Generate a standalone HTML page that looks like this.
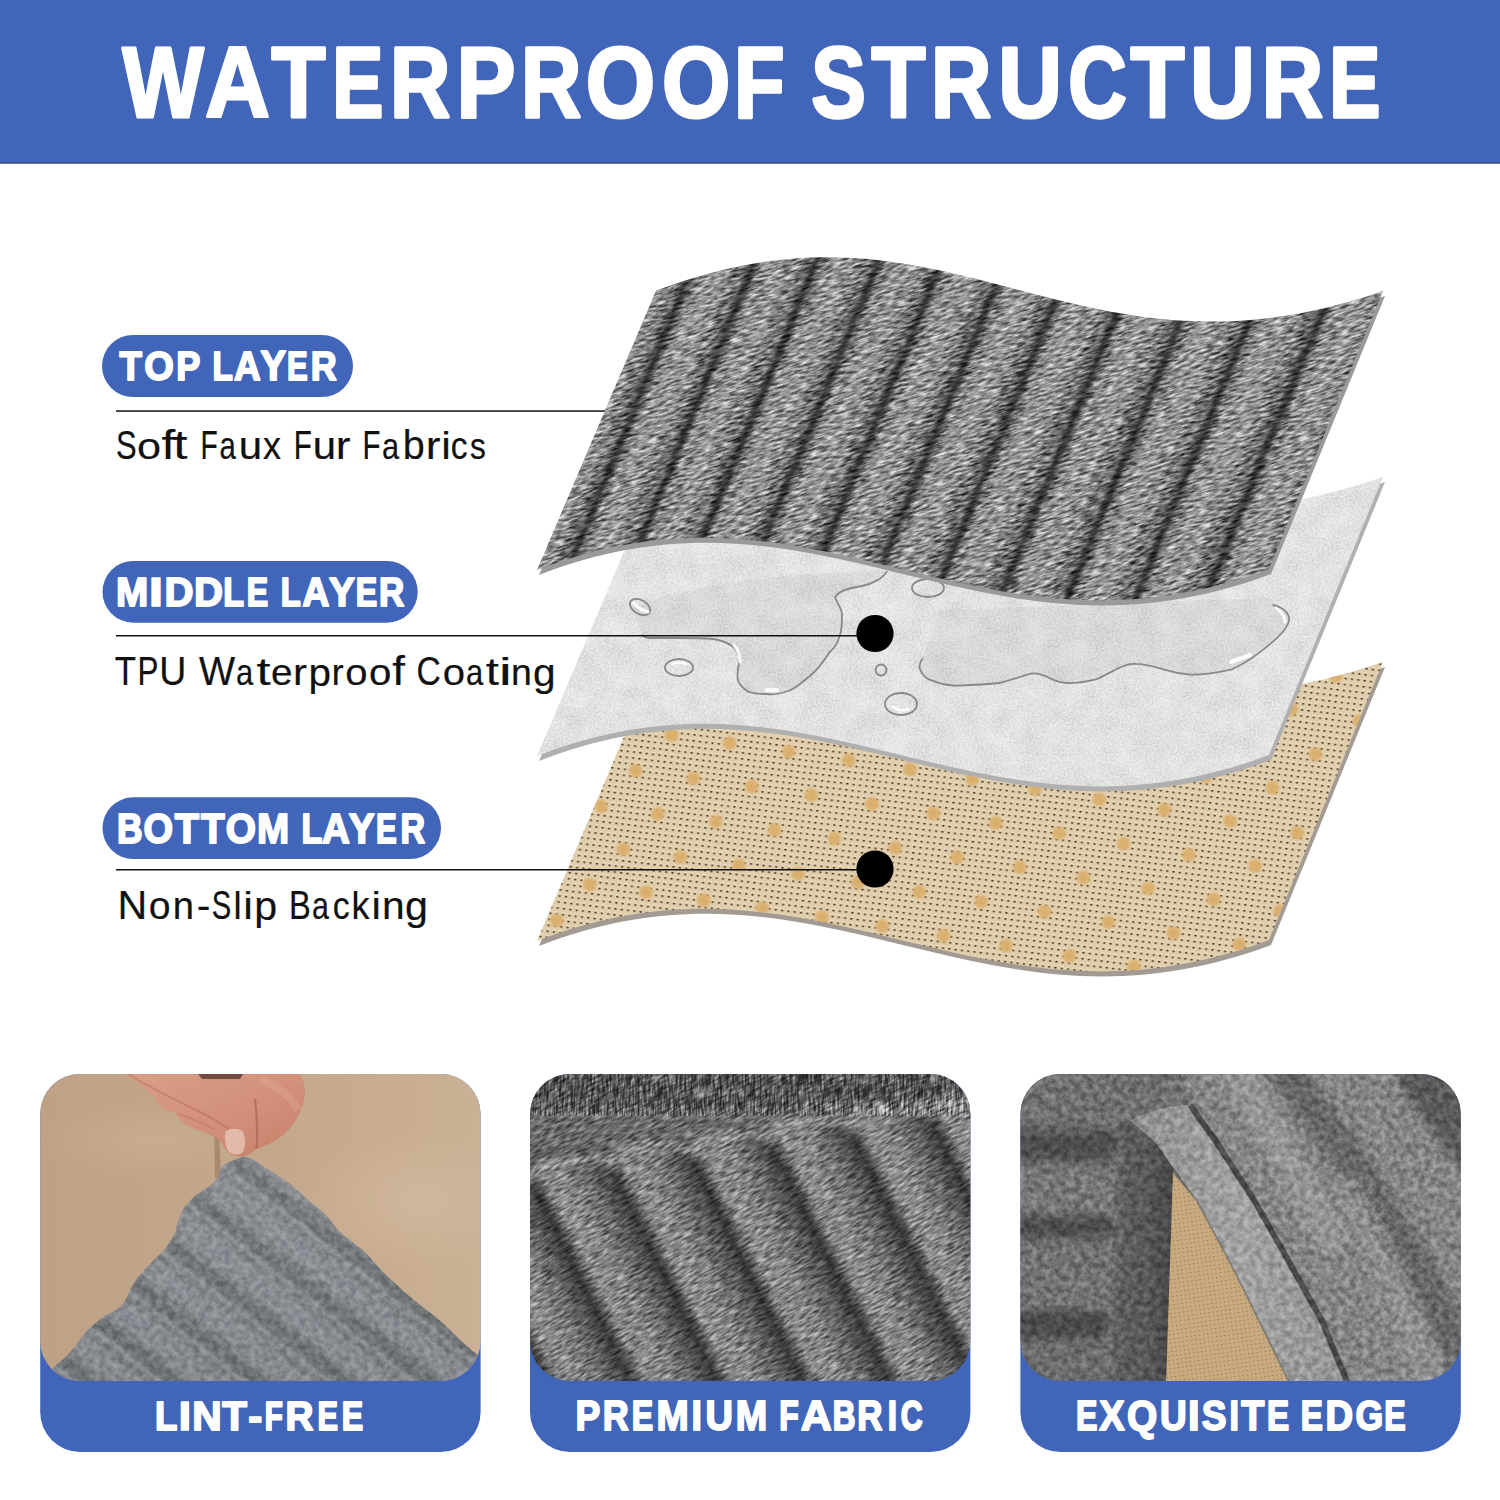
<!DOCTYPE html>
<html><head><meta charset="utf-8"><title>Waterproof Structure</title>
<style>
html,body{margin:0;padding:0;background:#fff;}
body{width:1500px;height:1500px;overflow:hidden;position:relative;font-family:"Liberation Sans",sans-serif;}
svg{position:absolute;left:0;top:0;display:block;}
</style></head><body>
<svg width="1500" height="1500" viewBox="0 0 1500 1500" font-family="Liberation Sans, sans-serif">
<defs>
  <path id="sheet" d="M656,290.7 C952.7,177.1 1071.3,399.1 1383,291 L1269,569 C978.3,677.9 820.5,459.5 537,570 Z"/>
  <clipPath id="clipTop"><use href="#sheet"/></clipPath>
  <clipPath id="clipMid"><use href="#sheet" transform="translate(0,186)"/></clipPath>
  <clipPath id="clipBot"><use href="#sheet" transform="translate(0,371)"/></clipPath>
  <linearGradient id="ribGrad" x1="0" x2="1" y1="0" y2="0">
    <stop offset="0" stop-color="#2c2c2c"/>
    <stop offset="0.07" stop-color="#505050"/>
    <stop offset="0.18" stop-color="#858585"/>
    <stop offset="0.5" stop-color="#939393"/>
    <stop offset="0.82" stop-color="#7c7c7c"/>
    <stop offset="0.93" stop-color="#505050"/>
    <stop offset="1" stop-color="#2c2c2c"/>
  </linearGradient>
  <pattern id="ribs" patternUnits="userSpaceOnUse" width="62" height="1500" patternTransform="skewX(-22.32) translate(59,0)">
    <rect x="0" y="0" width="62" height="1500" fill="url(#ribGrad)"/>
  </pattern>
  <filter id="furNoise" x="-200" y="-200" width="2000" height="2000" filterUnits="userSpaceOnUse" color-interpolation-filters="sRGB">
    <feTurbulence type="fractalNoise" baseFrequency="0.1 0.45" numOctaves="3" seed="7"/>
    <feColorMatrix type="matrix" values="1.9 0 0 0 -0.45  1.9 0 0 0 -0.45  1.9 0 0 0 -0.45  0 0 0 0 1"/>
  </filter>
  <filter id="mottle" x="-200" y="-200" width="2000" height="2000" filterUnits="userSpaceOnUse" color-interpolation-filters="sRGB">
    <feTurbulence type="fractalNoise" baseFrequency="0.045" numOctaves="4" seed="11"/>
    <feColorMatrix type="matrix" values="1.6 0 0 0 -0.3  1.6 0 0 0 -0.3  1.6 0 0 0 -0.3  0 0 0 0 1"/>
  </filter>
  <filter id="fineNoise" x="-200" y="-200" width="2000" height="2000" filterUnits="userSpaceOnUse" color-interpolation-filters="sRGB">
    <feTurbulence type="fractalNoise" baseFrequency="0.5" numOctaves="2" seed="4"/>
    <feColorMatrix type="matrix" values="2.5 0 0 0 -0.75  2.5 0 0 0 -0.75  2.5 0 0 0 -0.75  0 0 0 0 1"/>
  </filter>
  <!-- tan mesh -->
  <pattern id="mesh" patternUnits="userSpaceOnUse" width="6.3" height="6" patternTransform="matrix(1 0.12 -0.16 1 0 0)">
    <rect width="6.3" height="6" fill="#dfccaa"/>
    <ellipse cx="3.1" cy="1.2" rx="2.2" ry="0.9" fill="#ecdcc0" opacity="0.8"/>
    <ellipse cx="3.1" cy="3.2" rx="1.25" ry="0.85" fill="#45351d"/>
  </pattern>
  <radialGradient id="dotG">
    <stop offset="0" stop-color="#d9ad68"/>
    <stop offset="0.6" stop-color="#dcb272" stop-opacity="0.95"/>
    <stop offset="1" stop-color="#dcb272" stop-opacity="0"/>
  </radialGradient>
  <pattern id="dots" patternUnits="userSpaceOnUse" width="60" height="78" patternTransform="matrix(1 0.15 -0.154 1 670.7 737.3)">
    <circle cx="0" cy="0" r="8.5" fill="url(#dotG)"/>
    <circle cx="60" cy="0" r="8.5" fill="url(#dotG)"/>
    <circle cx="0" cy="78" r="8.5" fill="url(#dotG)"/>
    <circle cx="60" cy="78" r="8.5" fill="url(#dotG)"/>
    <circle cx="30" cy="39" r="8.5" fill="url(#dotG)"/>
  </pattern>
  <filter id="furNoise2" x="-200" y="-200" width="2000" height="2000" filterUnits="userSpaceOnUse" color-interpolation-filters="sRGB">
    <feTurbulence type="fractalNoise" baseFrequency="0.16 0.16" numOctaves="3" seed="21"/>
    <feColorMatrix type="matrix" values="1.9 0 0 0 -0.45  1.9 0 0 0 -0.45  1.9 0 0 0 -0.45  0 0 0 0 1"/>
  </filter>
  <filter id="blurR" x="-20%" y="-20%" width="140%" height="140%"><feGaussianBlur stdDeviation="7"/></filter>
  <filter id="blurG" x="-20%" y="-20%" width="140%" height="140%"><feGaussianBlur stdDeviation="2.2"/></filter>
  <filter id="vStreak" x="0" y="0" width="1" height="1" filterUnits="objectBoundingBox" color-interpolation-filters="sRGB">
    <feTurbulence type="fractalNoise" baseFrequency="0.45 0.07" numOctaves="2" seed="5"/>
    <feColorMatrix type="matrix" values="2.4 0 0 0 -0.7  2.4 0 0 0 -0.7  2.4 0 0 0 -0.7  0 0 0 0 1"/>
  </filter>
</defs>

<!-- header -->
<rect x="0" y="0" width="1500" height="163" fill="#4166b9"/>
<rect x="0" y="162.4" width="1500" height="1.3" fill="#2c4277"/>
<text transform="translate(122.42,116.50) scale(0.8600,0.9927)" font-size="100" font-weight="bold" fill="#fff" stroke="#fff" stroke-width="3.24" stroke-linejoin="round">W</text>
<text transform="translate(205.27,116.50) scale(0.8943,0.9927)" font-size="100" font-weight="bold" fill="#fff" stroke="#fff" stroke-width="3.18" stroke-linejoin="round">A</text>
<text transform="translate(271.51,116.50) scale(0.8831,0.9927)" font-size="100" font-weight="bold" fill="#fff" stroke="#fff" stroke-width="3.20" stroke-linejoin="round">T</text>
<text transform="translate(332.37,116.50) scale(0.7664,0.9927)" font-size="100" font-weight="bold" fill="#fff" stroke="#fff" stroke-width="3.41" stroke-linejoin="round">E</text>
<text transform="translate(389.91,116.50) scale(0.8350,0.9927)" font-size="100" font-weight="bold" fill="#fff" stroke="#fff" stroke-width="3.28" stroke-linejoin="round">R</text>
<text transform="translate(456.59,116.50) scale(0.8835,0.9927)" font-size="100" font-weight="bold" fill="#fff" stroke="#fff" stroke-width="3.20" stroke-linejoin="round">P</text>
<text transform="translate(520.91,116.50) scale(0.8350,0.9927)" font-size="100" font-weight="bold" fill="#fff" stroke="#fff" stroke-width="3.28" stroke-linejoin="round">R</text>
<text transform="translate(585.84,116.50) scale(0.8923,0.9927)" font-size="100" font-weight="bold" fill="#fff" stroke="#fff" stroke-width="3.18" stroke-linejoin="round">O</text>
<text transform="translate(661.90,116.50) scale(0.8779,0.9927)" font-size="100" font-weight="bold" fill="#fff" stroke="#fff" stroke-width="3.21" stroke-linejoin="round">O</text>
<text transform="translate(733.96,116.50) scale(0.8279,0.9927)" font-size="100" font-weight="bold" fill="#fff" stroke="#fff" stroke-width="3.30" stroke-linejoin="round">F</text>
<text transform="translate(811.14,116.50) scale(0.8179,0.9927)" font-size="100" font-weight="bold" fill="#fff" stroke="#fff" stroke-width="3.31" stroke-linejoin="round">S</text>
<text transform="translate(871.51,116.50) scale(0.8831,0.9927)" font-size="100" font-weight="bold" fill="#fff" stroke="#fff" stroke-width="3.20" stroke-linejoin="round">T</text>
<text transform="translate(930.91,116.50) scale(0.8350,0.9927)" font-size="100" font-weight="bold" fill="#fff" stroke="#fff" stroke-width="3.28" stroke-linejoin="round">R</text>
<text transform="translate(998.20,116.50) scale(0.8818,0.9927)" font-size="100" font-weight="bold" fill="#fff" stroke="#fff" stroke-width="3.20" stroke-linejoin="round">U</text>
<text transform="translate(1068.18,116.50) scale(0.8106,0.9927)" font-size="100" font-weight="bold" fill="#fff" stroke="#fff" stroke-width="3.33" stroke-linejoin="round">C</text>
<text transform="translate(1130.51,116.50) scale(0.8831,0.9927)" font-size="100" font-weight="bold" fill="#fff" stroke="#fff" stroke-width="3.20" stroke-linejoin="round">T</text>
<text transform="translate(1190.10,116.50) scale(0.8984,0.9927)" font-size="100" font-weight="bold" fill="#fff" stroke="#fff" stroke-width="3.17" stroke-linejoin="round">U</text>
<text transform="translate(1261.81,116.50) scale(0.8507,0.9927)" font-size="100" font-weight="bold" fill="#fff" stroke="#fff" stroke-width="3.25" stroke-linejoin="round">R</text>
<text transform="translate(1329.37,116.50) scale(0.7664,0.9927)" font-size="100" font-weight="bold" fill="#fff" stroke="#fff" stroke-width="3.41" stroke-linejoin="round">E</text>

<!-- labels -->
<rect x="102" y="335" width="251" height="62" rx="31" fill="#4166b9"/>
<text transform="translate(119.49,380.30) scale(0.3668,0.4157)" font-size="100" font-weight="bold" fill="#fff" stroke="#fff" stroke-width="4.60" stroke-linejoin="round">T</text>
<text transform="translate(144.14,380.30) scale(0.3800,0.4157)" font-size="100" font-weight="bold" fill="#fff" stroke="#fff" stroke-width="4.52" stroke-linejoin="round">O</text>
<text transform="translate(176.29,380.30) scale(0.3605,0.4157)" font-size="100" font-weight="bold" fill="#fff" stroke="#fff" stroke-width="4.64" stroke-linejoin="round">P</text>
<text transform="translate(212.47,380.30) scale(0.3332,0.4157)" font-size="100" font-weight="bold" fill="#fff" stroke="#fff" stroke-width="4.81" stroke-linejoin="round">L</text>
<text transform="translate(233.98,380.30) scale(0.3697,0.4157)" font-size="100" font-weight="bold" fill="#fff" stroke="#fff" stroke-width="4.58" stroke-linejoin="round">A</text>
<text transform="translate(260.54,380.30) scale(0.3834,0.4157)" font-size="100" font-weight="bold" fill="#fff" stroke="#fff" stroke-width="4.50" stroke-linejoin="round">Y</text>
<text transform="translate(287.03,380.30) scale(0.3101,0.4157)" font-size="100" font-weight="bold" fill="#fff" stroke="#fff" stroke-width="4.96" stroke-linejoin="round">E</text>
<text transform="translate(310.70,380.30) scale(0.3592,0.4157)" font-size="100" font-weight="bold" fill="#fff" stroke="#fff" stroke-width="4.65" stroke-linejoin="round">R</text>
<rect x="116" y="410.3" width="490" height="1.5" fill="#111"/>
<text transform="translate(116.00,459.30) scale(0.3092,0.4128)" font-size="100" font-weight="normal" fill="#111" stroke="#111" stroke-width="0.55">S</text>
<text transform="translate(136.99,459.30) scale(0.4320,0.3786)" font-size="100" font-weight="normal" fill="#111" stroke="#111" stroke-width="0.49">o</text>
<text transform="translate(161.40,459.30) scale(0.4941,0.4090)" font-size="100" font-weight="normal" fill="#111" stroke="#111" stroke-width="0.44">f</text>
<text transform="translate(173.32,459.30) scale(0.5130,0.4042)" font-size="100" font-weight="normal" fill="#111" stroke="#111" stroke-width="0.44">t</text>
<text transform="translate(200.48,459.30) scale(0.2823,0.4128)" font-size="100" font-weight="normal" fill="#111" stroke="#111" stroke-width="0.58">F</text>
<text transform="translate(219.55,459.30) scale(0.2940,0.3786)" font-size="100" font-weight="normal" fill="#111" stroke="#111" stroke-width="0.59">a</text>
<text transform="translate(238.68,459.30) scale(0.4190,0.3786)" font-size="100" font-weight="normal" fill="#111" stroke="#111" stroke-width="0.50">u</text>
<text transform="translate(263.00,459.30) scale(0.3598,0.3786)" font-size="100" font-weight="normal" fill="#111" stroke="#111" stroke-width="0.54">x</text>
<text transform="translate(293.67,459.30) scale(0.2967,0.4128)" font-size="100" font-weight="normal" fill="#111" stroke="#111" stroke-width="0.56">F</text>
<text transform="translate(312.68,459.30) scale(0.4190,0.3786)" font-size="100" font-weight="normal" fill="#111" stroke="#111" stroke-width="0.50">u</text>
<text transform="translate(335.85,459.30) scale(0.4440,0.3786)" font-size="100" font-weight="normal" fill="#111" stroke="#111" stroke-width="0.49">r</text>
<text transform="translate(362.38,459.30) scale(0.2946,0.4128)" font-size="100" font-weight="normal" fill="#111" stroke="#111" stroke-width="0.57">F</text>
<text transform="translate(382.09,459.30) scale(0.3076,0.3786)" font-size="100" font-weight="normal" fill="#111" stroke="#111" stroke-width="0.58">a</text>
<text transform="translate(402.85,459.30) scale(0.3958,0.4030)" font-size="100" font-weight="normal" fill="#111" stroke="#111" stroke-width="0.50">b</text>
<text transform="translate(425.85,459.30) scale(0.4440,0.3786)" font-size="100" font-weight="normal" fill="#111" stroke="#111" stroke-width="0.49">r</text>
<text transform="translate(441.21,459.30) scale(0.4324,0.3919)" font-size="100" font-weight="normal" fill="#111" stroke="#111" stroke-width="0.49">i</text>
<text transform="translate(450.67,459.30) scale(0.3363,0.3786)" font-size="100" font-weight="normal" fill="#111" stroke="#111" stroke-width="0.56">c</text>
<text transform="translate(469.92,459.30) scale(0.3165,0.3786)" font-size="100" font-weight="normal" fill="#111" stroke="#111" stroke-width="0.58">s</text>

<rect x="102.5" y="561" width="315.2" height="61.7" rx="30.8" fill="#4166b9"/>
<text transform="translate(116.12,606.30) scale(0.3861,0.4099)" font-size="100" font-weight="bold" fill="#fff" stroke="#fff" stroke-width="4.52" stroke-linejoin="round">M</text>
<text transform="translate(148.96,606.30) scale(0.4999,0.4099)" font-size="100" font-weight="bold" fill="#fff" stroke="#fff" stroke-width="3.96" stroke-linejoin="round">I</text>
<text transform="translate(164.62,606.30) scale(0.4011,0.4099)" font-size="100" font-weight="bold" fill="#fff" stroke="#fff" stroke-width="4.44" stroke-linejoin="round">D</text>
<text transform="translate(194.02,606.30) scale(0.4011,0.4099)" font-size="100" font-weight="bold" fill="#fff" stroke="#fff" stroke-width="4.44" stroke-linejoin="round">D</text>
<text transform="translate(223.23,606.30) scale(0.3391,0.4099)" font-size="100" font-weight="bold" fill="#fff" stroke="#fff" stroke-width="4.81" stroke-linejoin="round">L</text>
<text transform="translate(246.75,606.30) scale(0.3208,0.4099)" font-size="100" font-weight="bold" fill="#fff" stroke="#fff" stroke-width="4.93" stroke-linejoin="round">E</text>
<text transform="translate(280.71,606.30) scale(0.3274,0.4099)" font-size="100" font-weight="bold" fill="#fff" stroke="#fff" stroke-width="4.88" stroke-linejoin="round">L</text>
<text transform="translate(302.36,606.30) scale(0.3756,0.4099)" font-size="100" font-weight="bold" fill="#fff" stroke="#fff" stroke-width="4.58" stroke-linejoin="round">A</text>
<text transform="translate(329.04,606.30) scale(0.3881,0.4099)" font-size="100" font-weight="bold" fill="#fff" stroke="#fff" stroke-width="4.51" stroke-linejoin="round">Y</text>
<text transform="translate(355.75,606.30) scale(0.3208,0.4099)" font-size="100" font-weight="bold" fill="#fff" stroke="#fff" stroke-width="4.93" stroke-linejoin="round">E</text>
<text transform="translate(378.96,606.30) scale(0.3497,0.4099)" font-size="100" font-weight="bold" fill="#fff" stroke="#fff" stroke-width="4.74" stroke-linejoin="round">R</text>
<text transform="translate(114.72,684.80) scale(0.3484,0.4012)" font-size="100" font-weight="normal" fill="#111" stroke="#111" stroke-width="0.53">T</text>
<text transform="translate(137.43,684.80) scale(0.3138,0.4012)" font-size="100" font-weight="normal" fill="#111" stroke="#111" stroke-width="0.56">P</text>
<text transform="translate(159.31,684.80) scale(0.3751,0.4012)" font-size="100" font-weight="normal" fill="#111" stroke="#111" stroke-width="0.52">U</text>
<text transform="translate(198.93,684.80) scale(0.3825,0.4012)" font-size="100" font-weight="normal" fill="#111" stroke="#111" stroke-width="0.51">W</text>
<text transform="translate(236.09,684.80) scale(0.3095,0.3767)" font-size="100" font-weight="normal" fill="#111" stroke="#111" stroke-width="0.58">a</text>
<text transform="translate(256.54,684.80) scale(0.5051,0.3928)" font-size="100" font-weight="normal" fill="#111" stroke="#111" stroke-width="0.45">t</text>
<text transform="translate(271.05,684.80) scale(0.3879,0.3767)" font-size="100" font-weight="normal" fill="#111" stroke="#111" stroke-width="0.52">e</text>
<text transform="translate(292.91,684.80) scale(0.4200,0.3767)" font-size="100" font-weight="normal" fill="#111" stroke="#111" stroke-width="0.50">r</text>
<text transform="translate(308.39,685.62) scale(0.4047,0.3921)" font-size="100" font-weight="normal" fill="#111" stroke="#111" stroke-width="0.50">p</text>
<text transform="translate(331.64,684.80) scale(0.3560,0.3767)" font-size="100" font-weight="normal" fill="#111" stroke="#111" stroke-width="0.55">r</text>
<text transform="translate(345.32,684.80) scale(0.4003,0.3767)" font-size="100" font-weight="normal" fill="#111" stroke="#111" stroke-width="0.51">o</text>
<text transform="translate(369.01,684.80) scale(0.4024,0.3767)" font-size="100" font-weight="normal" fill="#111" stroke="#111" stroke-width="0.51">o</text>
<text transform="translate(392.35,684.80) scale(0.4564,0.3980)" font-size="100" font-weight="normal" fill="#111" stroke="#111" stroke-width="0.47">f</text>
<text transform="translate(416.59,684.80) scale(0.3363,0.4012)" font-size="100" font-weight="normal" fill="#111" stroke="#111" stroke-width="0.54">C</text>
<text transform="translate(442.72,684.80) scale(0.4003,0.3767)" font-size="100" font-weight="normal" fill="#111" stroke="#111" stroke-width="0.51">o</text>
<text transform="translate(466.09,684.80) scale(0.3095,0.3767)" font-size="100" font-weight="normal" fill="#111" stroke="#111" stroke-width="0.58">a</text>
<text transform="translate(485.78,684.80) scale(0.4738,0.3928)" font-size="100" font-weight="normal" fill="#111" stroke="#111" stroke-width="0.46">t</text>
<text transform="translate(498.64,684.80) scale(0.5916,0.3809)" font-size="100" font-weight="normal" fill="#111" stroke="#111" stroke-width="0.41">i</text>
<text transform="translate(510.91,684.80) scale(0.3743,0.3767)" font-size="100" font-weight="normal" fill="#111" stroke="#111" stroke-width="0.53">n</text>
<text transform="translate(533.09,685.62) scale(0.4069,0.3921)" font-size="100" font-weight="normal" fill="#111" stroke="#111" stroke-width="0.50">g</text>

<rect x="102.5" y="797.3" width="338.5" height="61.7" rx="30.8" fill="#4166b9"/>
<text transform="translate(116.93,842.50) scale(0.3542,0.4186)" font-size="100" font-weight="bold" fill="#fff" stroke="#fff" stroke-width="4.66" stroke-linejoin="round">B</text>
<text transform="translate(143.54,842.50) scale(0.3800,0.4186)" font-size="100" font-weight="bold" fill="#fff" stroke="#fff" stroke-width="4.51" stroke-linejoin="round">O</text>
<text transform="translate(174.65,842.50) scale(0.3974,0.4186)" font-size="100" font-weight="bold" fill="#fff" stroke="#fff" stroke-width="4.41" stroke-linejoin="round">T</text>
<text transform="translate(201.07,842.50) scale(0.3872,0.4186)" font-size="100" font-weight="bold" fill="#fff" stroke="#fff" stroke-width="4.47" stroke-linejoin="round">T</text>
<text transform="translate(225.71,842.50) scale(0.3886,0.4186)" font-size="100" font-weight="bold" fill="#fff" stroke="#fff" stroke-width="4.46" stroke-linejoin="round">O</text>
<text transform="translate(257.12,842.50) scale(0.3861,0.4186)" font-size="100" font-weight="bold" fill="#fff" stroke="#fff" stroke-width="4.47" stroke-linejoin="round">M</text>
<text transform="translate(301.43,842.50) scale(0.3391,0.4186)" font-size="100" font-weight="bold" fill="#fff" stroke="#fff" stroke-width="4.75" stroke-linejoin="round">L</text>
<text transform="translate(321.94,842.50) scale(0.3846,0.4186)" font-size="100" font-weight="bold" fill="#fff" stroke="#fff" stroke-width="4.48" stroke-linejoin="round">A</text>
<text transform="translate(348.64,842.50) scale(0.3881,0.4186)" font-size="100" font-weight="bold" fill="#fff" stroke="#fff" stroke-width="4.46" stroke-linejoin="round">Y</text>
<text transform="translate(376.03,842.50) scale(0.3101,0.4186)" font-size="100" font-weight="bold" fill="#fff" stroke="#fff" stroke-width="4.94" stroke-linejoin="round">E</text>
<text transform="translate(400.42,842.50) scale(0.3403,0.4186)" font-size="100" font-weight="bold" fill="#fff" stroke="#fff" stroke-width="4.74" stroke-linejoin="round">R</text>
<text transform="translate(117.52,919.10) scale(0.4117,0.4026)" font-size="100" font-weight="normal" fill="#111" stroke="#111" stroke-width="0.49">N</text>
<text transform="translate(148.65,919.10) scale(0.3918,0.3861)" font-size="100" font-weight="normal" fill="#111" stroke="#111" stroke-width="0.51">o</text>
<text transform="translate(172.77,919.10) scale(0.3814,0.3861)" font-size="100" font-weight="normal" fill="#111" stroke="#111" stroke-width="0.52">n</text>
<text transform="translate(196.68,919.10) scale(0.4096,0.3861)" font-size="100" font-weight="normal" fill="#111" stroke="#111" stroke-width="0.50">-</text>
<text transform="translate(211.87,919.10) scale(0.2918,0.4026)" font-size="100" font-weight="normal" fill="#111" stroke="#111" stroke-width="0.58">S</text>
<text transform="translate(233.45,919.10) scale(0.3641,0.3933)" font-size="100" font-weight="normal" fill="#111" stroke="#111" stroke-width="0.53">l</text>
<text transform="translate(243.21,919.10) scale(0.4324,0.3823)" font-size="100" font-weight="normal" fill="#111" stroke="#111" stroke-width="0.49">i</text>
<text transform="translate(254.25,919.94) scale(0.4114,0.4020)" font-size="100" font-weight="normal" fill="#111" stroke="#111" stroke-width="0.49">p</text>
<text transform="translate(288.92,919.10) scale(0.3269,0.4026)" font-size="100" font-weight="normal" fill="#111" stroke="#111" stroke-width="0.55">B</text>
<text transform="translate(311.91,919.10) scale(0.3037,0.3861)" font-size="100" font-weight="normal" fill="#111" stroke="#111" stroke-width="0.58">a</text>
<text transform="translate(332.66,919.10) scale(0.3386,0.3861)" font-size="100" font-weight="normal" fill="#111" stroke="#111" stroke-width="0.55">c</text>
<text transform="translate(351.58,919.10) scale(0.3594,0.3933)" font-size="100" font-weight="normal" fill="#111" stroke="#111" stroke-width="0.53">k</text>
<text transform="translate(371.58,919.10) scale(0.4210,0.3823)" font-size="100" font-weight="normal" fill="#111" stroke="#111" stroke-width="0.50">i</text>
<text transform="translate(381.90,919.10) scale(0.4072,0.3861)" font-size="100" font-weight="normal" fill="#111" stroke="#111" stroke-width="0.50">n</text>
<text transform="translate(404.97,919.94) scale(0.4114,0.4020)" font-size="100" font-weight="normal" fill="#111" stroke="#111" stroke-width="0.49">g</text>

<!-- bottom layer (tan) -->
<use href="#sheet" transform="translate(2,376)" fill="#a19b93"/>
<g clip-path="url(#clipBot)">
  <rect x="500" y="600" width="950" height="420" fill="url(#mesh)"/>
  <g fill="url(#dotG)">
<circle cx="1380.7" cy="642.6" r="8.5"/>
<circle cx="1135.9" cy="642.3" r="8.5"/>
<circle cx="1201.5" cy="653.1" r="8.5"/>
<circle cx="1268.2" cy="664.3" r="8.5"/>
<circle cx="1335.8" cy="675.9" r="8.5"/>
<circle cx="904.5" cy="647.1" r="8.5"/>
<circle cx="966.6" cy="656.4" r="8.5"/>
<circle cx="1029.6" cy="666.2" r="8.5"/>
<circle cx="1093.7" cy="676.4" r="8.5"/>
<circle cx="1158.7" cy="686.9" r="8.5"/>
<circle cx="1224.7" cy="697.9" r="8.5"/>
<circle cx="1291.6" cy="709.3" r="8.5"/>
<circle cx="1359.6" cy="721.1" r="8.5"/>
<circle cx="572.3" cy="642.1" r="8.5"/>
<circle cx="628.9" cy="649.2" r="8.5"/>
<circle cx="686.5" cy="656.8" r="8.5"/>
<circle cx="745.1" cy="664.7" r="8.5"/>
<circle cx="804.6" cy="673.0" r="8.5"/>
<circle cx="865.1" cy="681.8" r="8.5"/>
<circle cx="926.5" cy="690.9" r="8.5"/>
<circle cx="988.9" cy="700.5" r="8.5"/>
<circle cx="1052.3" cy="710.5" r="8.5"/>
<circle cx="1116.7" cy="720.8" r="8.5"/>
<circle cx="1182.0" cy="731.6" r="8.5"/>
<circle cx="1248.3" cy="742.8" r="8.5"/>
<circle cx="1315.6" cy="754.4" r="8.5"/>
<circle cx="1383.9" cy="766.4" r="8.5"/>
<circle cx="537.0" cy="678.0" r="8.5"/>
<circle cx="593.0" cy="684.9" r="8.5"/>
<circle cx="649.9" cy="692.2" r="8.5"/>
<circle cx="707.8" cy="700.0" r="8.5"/>
<circle cx="766.7" cy="708.1" r="8.5"/>
<circle cx="826.5" cy="716.6" r="8.5"/>
<circle cx="887.3" cy="725.6" r="8.5"/>
<circle cx="949.1" cy="734.9" r="8.5"/>
<circle cx="1011.8" cy="744.7" r="8.5"/>
<circle cx="1075.5" cy="754.8" r="8.5"/>
<circle cx="1140.2" cy="765.4" r="8.5"/>
<circle cx="1205.9" cy="776.4" r="8.5"/>
<circle cx="1272.5" cy="787.7" r="8.5"/>
<circle cx="1340.1" cy="799.5" r="8.5"/>
<circle cx="557.9" cy="720.7" r="8.5"/>
<circle cx="614.2" cy="727.8" r="8.5"/>
<circle cx="671.4" cy="735.3" r="8.5"/>
<circle cx="729.6" cy="743.2" r="8.5"/>
<circle cx="788.8" cy="751.6" r="8.5"/>
<circle cx="848.9" cy="760.3" r="8.5"/>
<circle cx="910.1" cy="769.4" r="8.5"/>
<circle cx="972.2" cy="779.0" r="8.5"/>
<circle cx="1035.2" cy="788.9" r="8.5"/>
<circle cx="1099.3" cy="799.3" r="8.5"/>
<circle cx="1164.3" cy="810.0" r="8.5"/>
<circle cx="1230.2" cy="821.2" r="8.5"/>
<circle cx="1297.2" cy="832.8" r="8.5"/>
<circle cx="1365.1" cy="844.7" r="8.5"/>
<circle cx="523.6" cy="756.6" r="8.5"/>
<circle cx="579.2" cy="763.5" r="8.5"/>
<circle cx="635.8" cy="770.8" r="8.5"/>
<circle cx="693.4" cy="778.5" r="8.5"/>
<circle cx="751.9" cy="786.6" r="8.5"/>
<circle cx="811.4" cy="795.1" r="8.5"/>
<circle cx="871.9" cy="804.0" r="8.5"/>
<circle cx="933.3" cy="813.4" r="8.5"/>
<circle cx="995.7" cy="823.1" r="8.5"/>
<circle cx="1059.1" cy="833.3" r="8.5"/>
<circle cx="1123.5" cy="843.8" r="8.5"/>
<circle cx="1188.8" cy="854.8" r="8.5"/>
<circle cx="1255.1" cy="866.1" r="8.5"/>
<circle cx="1322.3" cy="877.9" r="8.5"/>
<circle cx="1390.6" cy="890.1" r="8.5"/>
<circle cx="545.1" cy="799.2" r="8.5"/>
<circle cx="601.1" cy="806.3" r="8.5"/>
<circle cx="658.0" cy="813.8" r="8.5"/>
<circle cx="715.9" cy="821.7" r="8.5"/>
<circle cx="774.7" cy="830.0" r="8.5"/>
<circle cx="834.5" cy="838.8" r="8.5"/>
<circle cx="895.3" cy="847.9" r="8.5"/>
<circle cx="957.1" cy="857.4" r="8.5"/>
<circle cx="1019.8" cy="867.3" r="8.5"/>
<circle cx="1083.5" cy="877.7" r="8.5"/>
<circle cx="1148.2" cy="888.4" r="8.5"/>
<circle cx="1213.8" cy="899.6" r="8.5"/>
<circle cx="1280.4" cy="911.1" r="8.5"/>
<circle cx="1348.0" cy="923.1" r="8.5"/>
<circle cx="567.1" cy="842.0" r="8.5"/>
<circle cx="623.4" cy="849.3" r="8.5"/>
<circle cx="680.6" cy="857.0" r="8.5"/>
<circle cx="738.8" cy="865.1" r="8.5"/>
<circle cx="798.0" cy="873.6" r="8.5"/>
<circle cx="858.1" cy="882.5" r="8.5"/>
<circle cx="919.3" cy="891.8" r="8.5"/>
<circle cx="981.3" cy="901.5" r="8.5"/>
<circle cx="1044.4" cy="911.6" r="8.5"/>
<circle cx="1108.4" cy="922.2" r="8.5"/>
<circle cx="1173.4" cy="933.1" r="8.5"/>
<circle cx="1239.4" cy="944.5" r="8.5"/>
<circle cx="1306.3" cy="956.2" r="8.5"/>
<circle cx="1374.2" cy="968.4" r="8.5"/>
<circle cx="534.1" cy="877.7" r="8.5"/>
<circle cx="589.7" cy="884.8" r="8.5"/>
<circle cx="646.2" cy="892.3" r="8.5"/>
<circle cx="703.8" cy="900.2" r="8.5"/>
<circle cx="762.3" cy="908.5" r="8.5"/>
<circle cx="821.8" cy="917.2" r="8.5"/>
<circle cx="882.3" cy="926.3" r="8.5"/>
<circle cx="943.7" cy="935.8" r="8.5"/>
<circle cx="1006.1" cy="945.7" r="8.5"/>
<circle cx="1069.5" cy="956.0" r="8.5"/>
<circle cx="1133.8" cy="966.8" r="8.5"/>
<circle cx="1199.1" cy="977.9" r="8.5"/>
<circle cx="1265.4" cy="989.4" r="8.5"/>
<circle cx="556.8" cy="920.4" r="8.5"/>
<circle cx="612.7" cy="927.7" r="8.5"/>
<circle cx="669.6" cy="935.4" r="8.5"/>
<circle cx="727.5" cy="943.5" r="8.5"/>
<circle cx="786.3" cy="952.0" r="8.5"/>
<circle cx="846.1" cy="960.9" r="8.5"/>
<circle cx="906.9" cy="970.2" r="8.5"/>
<circle cx="968.6" cy="979.9" r="8.5"/>
<circle cx="1031.4" cy="990.0" r="8.5"/>
<circle cx="524.7" cy="956.2" r="8.5"/>
<circle cx="580.0" cy="963.2" r="8.5"/>
<circle cx="636.2" cy="970.7" r="8.5"/>
<circle cx="693.4" cy="978.6" r="8.5"/>
<circle cx="751.6" cy="986.9" r="8.5"/>
</g>
</g>
<!-- middle layer -->
<use href="#sheet" transform="translate(2,191)" fill="#b0b0b0"/>
<g clip-path="url(#clipMid)">
  <rect x="500" y="420" width="950" height="420" fill="#e2e2e2"/>
  <rect x="500" y="420" width="950" height="420" filter="url(#mottle)" style="mix-blend-mode:overlay" opacity="0.25"/>
  <rect x="500" y="420" width="950" height="420" filter="url(#fineNoise)" style="mix-blend-mode:overlay" opacity="0.35"/>
  <path d="M887,571 C884,578 872,584 862,586 C850,588 840,590 835,597 C838,605 843,610 842,616 C842,625 842,630 840,635 C837,645 834,648 829,653 C822,664 817,670 810,676 C800,684 795,689 788,691 C780,694 772,695 766,694 C757,694 751,693 747,691 C740,686 737,681 737.6,676 C737,668 740,662 739.5,657 C737,651 735,648 732,646 C726,642 720,640 713,639 C700,638 690,638 676,638 C665,638 655,638 648,638 C644,637 643,636 642,635 L632,607 C680,590 760,572 887,571 Z" fill="#000" opacity="0.035"/>
  <path d="M922.8,658.3 C919,663 919,668 920,669.3 C923,676 927,679 931,680.2 C940,684 950,686 958.3,685.7 C975,685 990,684 999.3,683 C1012,680 1025,675 1032,673.4 C1038,673 1043,675 1048.5,677.5 C1055,681 1061,683 1067.6,683 C1080,683 1090,681 1097.7,678.8 C1108,674 1116,669 1122.3,666.5 C1128,664 1132,663.5 1136,663.8 C1146,664 1155,667 1163.3,669.3 C1172,672 1182,674 1190.6,674.7 C1205,675 1220,672 1231.6,669.3 C1242,665 1251,659 1259,652.9 C1268,646 1277,639 1283.5,631 C1288,625 1290,621 1289,617.3 C1288,613 1285,610 1280.8,607.8 L1270,598 L940,610 Z" fill="#000" opacity="0.035"/>
  <g fill="none" stroke="#6c6c6c" stroke-width="1.8" opacity="0.75">
    <path d="M887,571 C884,578 872,584 862,586 C850,588 840,590 835,597 C838,605 843,610 842,616 C842,625 842,630 840,635 C837,645 834,648 829,653 C822,664 817,670 810,676 C800,684 795,689 788,691 C780,694 772,695 766,694 C757,694 751,693 747,691 C740,686 737,681 737.6,676 C737,668 740,662 739.5,657 C737,651 735,648 732,646 C726,642 720,640 713,639 C700,638 690,638 676,638 C665,638 655,638 648,638 C644,637 643,636 642,635"/>
    <path d="M922.8,658.3 C919,663 919,668 920,669.3 C923,676 927,679 931,680.2 C940,684 950,686 958.3,685.7 C975,685 990,684 999.3,683 C1012,680 1025,675 1032,673.4 C1038,673 1043,675 1048.5,677.5 C1055,681 1061,683 1067.6,683 C1080,683 1090,681 1097.7,678.8 C1108,674 1116,669 1122.3,666.5 C1128,664 1132,663.5 1136,663.8 C1146,664 1155,667 1163.3,669.3 C1172,672 1182,674 1190.6,674.7 C1205,675 1220,672 1231.6,669.3 C1242,665 1251,659 1259,652.9 C1268,646 1277,639 1283.5,631 C1288,625 1290,621 1289,617.3 C1288,613 1285,610 1280.8,607.8 C1277,606 1275,605 1272.6,605"/>
    <ellipse cx="640" cy="607" rx="11" ry="7" transform="rotate(30 640 607)"/>
    <ellipse cx="679" cy="667.5" rx="14" ry="8.5"/>
    <ellipse cx="901" cy="704" rx="16" ry="11"/>
    <circle cx="881" cy="670" r="5.5"/>
    <ellipse cx="928" cy="588" rx="16" ry="9"/>
  </g>
  <g fill="none" stroke="#fff" stroke-linecap="round" opacity="0.9">
    <path d="M734,645 C738,650 740,656 740,662" stroke-width="3"/>
    <path d="M767,690 L777,690" stroke-width="4"/>
    <path d="M1231,662 L1250,655" stroke-width="4"/>
    <path d="M1276,608 C1282,612 1285,617 1285,622" stroke-width="3"/>
    <path d="M634,603 C638,608 643,611 648,612" stroke-width="3"/>
    <path d="M672,664 C676,662 682,662 686,664" stroke-width="2.5"/>
    <path d="M893,707 C897,710 903,711 908,709" stroke-width="2.5"/>
  </g>
</g>
<!-- top layer (fur) -->
<use href="#sheet" transform="translate(2,5)" fill="#9a9a9a"/>
<g clip-path="url(#clipTop)">
  <rect x="500" y="230" width="950" height="420" fill="#6a6a6a"/>
  <g fill="none" filter="url(#blurR)">
  <path d="M610.4,240 L446.4,640" stroke="#959595" stroke-width="32.0"/>
  <path d="M669.1,240 L505.1,640" stroke="#959595" stroke-width="32.6"/>
  <path d="M728.8,240 L564.8,640" stroke="#959595" stroke-width="33.2"/>
  <path d="M789.5,240 L625.5,640" stroke="#959595" stroke-width="33.7"/>
  <path d="M851.2,240 L687.2,640" stroke="#959595" stroke-width="34.3"/>
  <path d="M914.0,240 L750.0,640" stroke="#959595" stroke-width="34.8"/>
  <path d="M977.7,240 L813.7,640" stroke="#959595" stroke-width="35.4"/>
  <path d="M1042.5,240 L878.5,640" stroke="#959595" stroke-width="35.9"/>
  <path d="M1108.2,240 L944.2,640" stroke="#959595" stroke-width="36.5"/>
  <path d="M1175.0,240 L1011.0,640" stroke="#959595" stroke-width="37.1"/>
  <path d="M1242.8,240 L1078.8,640" stroke="#959595" stroke-width="37.6"/>
  <path d="M1311.6,240 L1147.6,640" stroke="#959595" stroke-width="38.2"/>
  <path d="M1381.4,240 L1217.4,640" stroke="#959595" stroke-width="38.7"/>
  <path d="M1452.2,240 L1288.2,640" stroke="#959595" stroke-width="39.3"/>
  <path d="M1524.1,240 L1360.1,640" stroke="#959595" stroke-width="39.8"/>
  </g>
  <g fill="none" filter="url(#blurG)">
  <path d="M586.0,240 L422.0,640" stroke="#2e2e2e" stroke-width="7"/>
  <path d="M644.2,240 L480.2,640" stroke="#2e2e2e" stroke-width="7"/>
  <path d="M703.5,240 L539.5,640" stroke="#2e2e2e" stroke-width="7"/>
  <path d="M763.8,240 L599.8,640" stroke="#2e2e2e" stroke-width="7"/>
  <path d="M825.1,240 L661.1,640" stroke="#2e2e2e" stroke-width="7"/>
  <path d="M887.4,240 L723.4,640" stroke="#2e2e2e" stroke-width="7"/>
  <path d="M950.7,240 L786.7,640" stroke="#2e2e2e" stroke-width="7"/>
  <path d="M1015.0,240 L851.0,640" stroke="#2e2e2e" stroke-width="7"/>
  <path d="M1080.4,240 L916.4,640" stroke="#2e2e2e" stroke-width="7"/>
  <path d="M1146.7,240 L982.7,640" stroke="#2e2e2e" stroke-width="7"/>
  <path d="M1214.1,240 L1050.1,640" stroke="#2e2e2e" stroke-width="7"/>
  <path d="M1282.5,240 L1118.5,640" stroke="#2e2e2e" stroke-width="7"/>
  <path d="M1351.8,240 L1187.8,640" stroke="#2e2e2e" stroke-width="7"/>
  <path d="M1422.2,240 L1258.2,640" stroke="#2e2e2e" stroke-width="7"/>
  <path d="M1493.7,240 L1329.7,640" stroke="#2e2e2e" stroke-width="7"/>
  <path d="M1566.1,240 L1402.1,640" stroke="#2e2e2e" stroke-width="7"/>
  </g>
  <g transform="rotate(-18 960 430)">
    <rect x="300" y="-100" width="1300" height="1000" filter="url(#furNoise)" style="mix-blend-mode:overlay" opacity="0.75"/>
  </g>
</g>

<!-- lines + dots -->
<rect x="116" y="635" width="760" height="1.5" fill="#111"/>
<circle cx="875" cy="633.5" r="18.6" fill="#000"/>
<rect x="116" y="869" width="760" height="1.5" fill="#111"/>
<circle cx="875" cy="869" r="18.6" fill="#000"/>

<!-- card 1 : LINT-FREE -->
<rect x="40.2" y="1074" width="440.4" height="378" rx="40" fill="#4166b9"/>
<defs>
  <filter id="blur1" x="-20%" y="-20%" width="140%" height="140%"><feGaussianBlur stdDeviation="1.5"/></filter>
  <clipPath id="ph1"><rect x="40.2" y="1074" width="440.4" height="307" rx="40"/></clipPath>
  <linearGradient id="bg1" x1="0" x2="1" y1="0" y2="0">
    <stop offset="0" stop-color="#bfa285"/>
    <stop offset="0.45" stop-color="#c3a78a"/>
    <stop offset="1" stop-color="#cab095"/>
  </linearGradient>
  <radialGradient id="bg1hl" cx="0.5" cy="0.5" r="0.5">
    <stop offset="0" stop-color="#d2b89f" stop-opacity="0.8"/>
    <stop offset="1" stop-color="#d2b89f" stop-opacity="0"/>
  </radialGradient>
  <linearGradient id="skin1" x1="0" x2="1" y1="0" y2="1">
    <stop offset="0" stop-color="#d99e88"/>
    <stop offset="0.5" stop-color="#d3917b"/>
    <stop offset="1" stop-color="#c7806a"/>
  </linearGradient>
  <linearGradient id="fab1" x1="0" x2="0" y1="0" y2="1">
    <stop offset="0" stop-color="#878a8e"/>
    <stop offset="1" stop-color="#797c80"/>
  </linearGradient>
  <clipPath id="mound1"><path d="M243,1156 C236,1160 226,1162 222,1167 C219,1175 217,1180 212,1184 C204,1190 196,1194 188,1203 C180,1212 178,1220 176,1230 C171,1242 166,1249 158,1256 C148,1266 137,1276 130,1290 C126,1300 122,1308 112,1312 C100,1318 92,1326 84,1334 C76,1344 70,1354 60,1362 C50,1370 44,1376 40,1384 L482,1384 L482,1358 C470,1350 460,1340 450,1330 C440,1320 430,1312 420,1305 C405,1293 395,1283 385,1274 C375,1264 368,1254 360,1248 C350,1240 344,1236 338,1230 C330,1220 326,1214 318,1208 C305,1198 298,1190 290,1184 C280,1176 272,1172 266,1168 C258,1162 254,1159 243,1156 Z"/></clipPath>
</defs>
<g clip-path="url(#ph1)">
  <rect x="40" y="1074" width="442" height="310" fill="url(#bg1)"/>
  <ellipse cx="420" cy="1200" rx="120" ry="70" fill="url(#bg1hl)"/>
  <ellipse cx="150" cy="1140" rx="110" ry="40" fill="url(#bg1hl)" opacity="0.5"/>
  <path d="M214,1130 L219,1130 L221,1178 L215,1178 Z" fill="#9c7e62" opacity="0.7"/>
  <!-- fabric mound -->
  <g clip-path="url(#mound1)">
    <rect x="40" y="1150" width="442" height="240" fill="url(#fab1)"/>
    <g fill="none" stroke-linecap="butt" filter="url(#blur1)">
      <path d="M21.7,965.7 L571.9,1398.3" stroke="#92959a" stroke-width="22" opacity="0.55"/>
      <path d="M7.4,983.8 L557.6,1416.4" stroke="#606367" stroke-width="12" opacity="0.45"/>
      <path d="M1.6,991.2 L551.8,1423.8" stroke="#a0a3a7" stroke-width="2.2" opacity="0.7"/>
      <path d="M-10.7,1006.9 L539.5,1439.5" stroke="#92959a" stroke-width="22" opacity="0.55"/>
      <path d="M-25.0,1025.0 L525.2,1457.6" stroke="#606367" stroke-width="12" opacity="0.45"/>
      <path d="M-30.8,1032.4 L519.4,1465.0" stroke="#a0a3a7" stroke-width="2.2" opacity="0.7"/>
      <path d="M-43.1,1048.1 L507.1,1480.7" stroke="#92959a" stroke-width="22" opacity="0.55"/>
      <path d="M-57.4,1066.2 L492.8,1498.8" stroke="#606367" stroke-width="12" opacity="0.45"/>
      <path d="M-63.2,1073.6 L487.0,1506.2" stroke="#a0a3a7" stroke-width="2.2" opacity="0.7"/>
      <path d="M-75.5,1089.3 L474.7,1521.9" stroke="#92959a" stroke-width="22" opacity="0.55"/>
      <path d="M-89.8,1107.4 L460.4,1540.0" stroke="#606367" stroke-width="12" opacity="0.45"/>
      <path d="M-95.6,1114.8 L454.6,1547.4" stroke="#a0a3a7" stroke-width="2.2" opacity="0.7"/>
      <path d="M-107.9,1130.5 L442.3,1563.1" stroke="#92959a" stroke-width="22" opacity="0.55"/>
      <path d="M-122.2,1148.6 L428.0,1581.2" stroke="#606367" stroke-width="12" opacity="0.45"/>
      <path d="M-128.0,1156.0 L422.2,1588.6" stroke="#a0a3a7" stroke-width="2.2" opacity="0.7"/>
      <path d="M-140.3,1171.7 L409.9,1604.3" stroke="#92959a" stroke-width="22" opacity="0.55"/>
      <path d="M-154.6,1189.8 L395.6,1622.4" stroke="#606367" stroke-width="12" opacity="0.45"/>
      <path d="M-160.4,1197.2 L389.8,1629.8" stroke="#a0a3a7" stroke-width="2.2" opacity="0.7"/>
      <path d="M-172.7,1212.9 L377.5,1645.5" stroke="#92959a" stroke-width="22" opacity="0.55"/>
      <path d="M-187.0,1231.0 L363.2,1663.6" stroke="#606367" stroke-width="12" opacity="0.45"/>
      <path d="M-192.8,1238.4 L357.4,1671.0" stroke="#a0a3a7" stroke-width="2.2" opacity="0.7"/>
      <path d="M-205.1,1254.1 L345.1,1686.7" stroke="#92959a" stroke-width="22" opacity="0.55"/>
      <path d="M-219.4,1272.2 L330.8,1704.8" stroke="#606367" stroke-width="12" opacity="0.45"/>
      <path d="M-225.2,1279.6 L325.0,1712.2" stroke="#a0a3a7" stroke-width="2.2" opacity="0.7"/>
    </g>
    <rect x="40" y="1150" width="442" height="240" filter="url(#furNoise2)" style="mix-blend-mode:overlay" opacity="0.16"/>
  </g>
  <!-- hand -->
  <path d="M124.7,1074 L298,1074 C303,1078 305.5,1086 305,1093 C304.5,1101 302,1109 297,1118 C292,1127 285,1134 278,1139 C270,1144 262,1147 256,1149 C253,1153 248,1156 242,1156.5 C235,1157 229,1154 226,1150 C223.5,1146 222,1142 218,1139 C213,1136 208,1134 203,1132 C196,1130 190,1127 185,1124 C181,1121 178,1117 176.5,1113 C173,1111 168,1111 163,1109 C159,1107 157,1102 155.5,1098 C150,1092 142,1086 135,1081 C131,1078 128,1076 124.7,1074 Z" fill="url(#skin1)"/>
  <path d="M128,1074 C150,1088 175,1100 200,1112 C212,1118 222,1124 230,1130" fill="none" stroke="#b86e5c" stroke-width="2" opacity="0.5"/>
  <path d="M176.5,1113 C190,1118 205,1124 215,1130" fill="none" stroke="#b86e5c" stroke-width="1.5" opacity="0.45"/>
  <path d="M226,1131 C231,1128 238,1128 242,1131 C246,1136 246,1146 243,1152 C239,1156 231,1155 228,1151 C225,1145 224,1136 226,1131 Z" fill="#e6c2b4" opacity="0.85"/>
  <path d="M255,1099 C257,1115 258,1132 256.5,1149" stroke="#a85e4e" stroke-width="2.2" fill="none" opacity="0.6"/>
  <path d="M260,1080 C275,1085 290,1095 298,1110" stroke="#e4ad98" stroke-width="8" fill="none" opacity="0.35"/>
  <path d="M198,1074 L243,1074 L240,1079 L202,1079 Z" fill="#4e3228" opacity="0.75"/>
</g>
<text transform="translate(155.06,1430.00) scale(0.3644,0.4099)" font-size="100" font-weight="bold" fill="#fff" stroke="#fff" stroke-width="4.65" stroke-linejoin="round">L</text>
<text transform="translate(178.77,1430.00) scale(0.4374,0.4099)" font-size="100" font-weight="bold" fill="#fff" stroke="#fff" stroke-width="4.25" stroke-linejoin="round">I</text>
<text transform="translate(192.18,1430.00) scale(0.4065,0.4099)" font-size="100" font-weight="bold" fill="#fff" stroke="#fff" stroke-width="4.41" stroke-linejoin="round">N</text>
<text transform="translate(222.35,1430.00) scale(0.4042,0.4099)" font-size="100" font-weight="bold" fill="#fff" stroke="#fff" stroke-width="4.42" stroke-linejoin="round">T</text>
<text transform="translate(248.25,1430.00) scale(0.4214,0.4099)" font-size="100" font-weight="bold" fill="#fff" stroke="#fff" stroke-width="4.33" stroke-linejoin="round">-</text>
<text transform="translate(264.82,1430.00) scale(0.2957,0.4099)" font-size="100" font-weight="bold" fill="#fff" stroke="#fff" stroke-width="5.10" stroke-linejoin="round">F</text>
<text transform="translate(285.41,1430.00) scale(0.3875,0.4099)" font-size="100" font-weight="bold" fill="#fff" stroke="#fff" stroke-width="4.51" stroke-linejoin="round">R</text>
<text transform="translate(317.55,1430.00) scale(0.3066,0.4099)" font-size="100" font-weight="bold" fill="#fff" stroke="#fff" stroke-width="5.02" stroke-linejoin="round">E</text>
<text transform="translate(341.65,1430.00) scale(0.3208,0.4099)" font-size="100" font-weight="bold" fill="#fff" stroke="#fff" stroke-width="4.93" stroke-linejoin="round">E</text>

<!-- card 2 : PREMIUM FABRIC -->
<rect x="530" y="1074" width="440.4" height="378" rx="40" fill="#4166b9"/>
<defs>
  <clipPath id="ph2"><rect x="530" y="1074" width="440.4" height="307" rx="40"/></clipPath>
  <filter id="blur2" x="-50%" y="-50%" width="200%" height="200%"><feGaussianBlur stdDeviation="2.5"/></filter>
  <linearGradient id="ribG2" x1="0" x2="1" y1="0" y2="0">
    <stop offset="0" stop-color="#363636"/>
    <stop offset="0.07" stop-color="#4e4e4e"/>
    <stop offset="0.2" stop-color="#8a8a8a"/>
    <stop offset="0.45" stop-color="#858585"/>
    <stop offset="0.75" stop-color="#626262"/>
    <stop offset="0.92" stop-color="#484848"/>
    <stop offset="1" stop-color="#363636"/>
  </linearGradient>
  <pattern id="ribs2" patternUnits="userSpaceOnUse" width="86" height="1500" patternTransform="skewX(26.57) translate(26,0)">
    <rect width="86" height="1500" fill="url(#ribG2)"/>
  </pattern>
</defs>
<g clip-path="url(#ph2)">
  <rect x="530" y="1074" width="442" height="310" fill="#5e5e5e"/>
  <rect x="530" y="1074" width="442" height="44" fill="#545454"/>
  <path d="M530,1112 C650,1108 800,1104 972,1098 L972,1125 C820,1130 680,1140 530,1150 Z" fill="#6a6a6a" filter="url(#blur2)"/>
  <path d="M450,1400 L450,1200 C452,1180 468,1178 490,1178 C512,1178 527,1171 531,1185 C533,1162 546,1160 568,1160 C590,1160 608,1156 612,1170 C614,1148.5 617,1146.5 639,1146.5 C661,1146.5 690,1144 694,1158 C696,1138.2 696.6,1136.2 718.6,1136.2 C740.6,1136.2 769,1131 773,1145 C775,1123.5 773.2,1121.5 795.2,1121.5 C817.2,1121.5 848,1118 852,1132 C854,1113.2 852.7,1111.2 874.7,1111.2 C896.7,1111.2 927,1106 931,1120 C933,1102.8 926.4,1100.8 948.4,1100.8 C970.4,1100.8 1006,1094 1010,1108 L1010,1400 Z" fill="url(#ribs2)"/>
  <path d="M450,1400 L450,1200 C452,1180 468,1178 490,1178 C512,1178 527,1171 531,1185 C533,1162 546,1160 568,1160 C590,1160 608,1156 612,1170 C614,1148.5 617,1146.5 639,1146.5 C661,1146.5 690,1144 694,1158 C696,1138.2 696.6,1136.2 718.6,1136.2 C740.6,1136.2 769,1131 773,1145 C775,1123.5 773.2,1121.5 795.2,1121.5 C817.2,1121.5 848,1118 852,1132 C854,1113.2 852.7,1111.2 874.7,1111.2 C896.7,1111.2 927,1106 931,1120 C933,1102.8 926.4,1100.8 948.4,1100.8 C970.4,1100.8 1006,1094 1010,1108 L1010,1400 Z" fill="none" stroke="#9c9c9c" stroke-width="9" opacity="0.6" filter="url(#blur2)"/>
  <g transform="rotate(-30 750 1230)"><rect x="380" y="900" width="740" height="660" filter="url(#furNoise)" style="mix-blend-mode:overlay" opacity="0.5"/></g>
  <rect x="530" y="1074" width="442" height="42" filter="url(#vStreak)" style="mix-blend-mode:overlay" opacity="0.5"/>
</g>
<text transform="translate(575.62,1430.10) scale(0.3711,0.4186)" font-size="100" font-weight="bold" fill="#fff" stroke="#fff" stroke-width="4.56" stroke-linejoin="round">P</text>
<text transform="translate(602.70,1430.10) scale(0.3592,0.4186)" font-size="100" font-weight="bold" fill="#fff" stroke="#fff" stroke-width="4.63" stroke-linejoin="round">R</text>
<text transform="translate(631.75,1430.10) scale(0.3208,0.4186)" font-size="100" font-weight="bold" fill="#fff" stroke="#fff" stroke-width="4.87" stroke-linejoin="round">E</text>
<text transform="translate(656.52,1430.10) scale(0.3861,0.4186)" font-size="100" font-weight="bold" fill="#fff" stroke="#fff" stroke-width="4.47" stroke-linejoin="round">M</text>
<text transform="translate(691.39,1430.10) scale(0.3749,0.4186)" font-size="100" font-weight="bold" fill="#fff" stroke="#fff" stroke-width="4.54" stroke-linejoin="round">I</text>
<text transform="translate(705.42,1430.10) scale(0.3793,0.4186)" font-size="100" font-weight="bold" fill="#fff" stroke="#fff" stroke-width="4.51" stroke-linejoin="round">U</text>
<text transform="translate(735.77,1430.10) scale(0.3776,0.4186)" font-size="100" font-weight="bold" fill="#fff" stroke="#fff" stroke-width="4.52" stroke-linejoin="round">M</text>
<text transform="translate(779.36,1430.10) scale(0.3193,0.4186)" font-size="100" font-weight="bold" fill="#fff" stroke="#fff" stroke-width="4.88" stroke-linejoin="round">F</text>
<text transform="translate(800.83,1430.10) scale(0.4293,0.4186)" font-size="100" font-weight="bold" fill="#fff" stroke="#fff" stroke-width="4.25" stroke-linejoin="round">A</text>
<text transform="translate(832.79,1430.10) scale(0.3148,0.4186)" font-size="100" font-weight="bold" fill="#fff" stroke="#fff" stroke-width="4.91" stroke-linejoin="round">B</text>
<text transform="translate(857.16,1430.10) scale(0.3497,0.4186)" font-size="100" font-weight="bold" fill="#fff" stroke="#fff" stroke-width="4.69" stroke-linejoin="round">R</text>
<text transform="translate(887.87,1430.10) scale(0.3332,0.4186)" font-size="100" font-weight="bold" fill="#fff" stroke="#fff" stroke-width="4.79" stroke-linejoin="round">I</text>
<text transform="translate(900.86,1430.10) scale(0.3028,0.4186)" font-size="100" font-weight="bold" fill="#fff" stroke="#fff" stroke-width="4.99" stroke-linejoin="round">C</text>

<!-- card 3 : EXQUISITE EDGE -->
<rect x="1020.4" y="1074" width="440.4" height="378" rx="40" fill="#4166b9"/>
<defs>
  <clipPath id="ph3"><rect x="1020.4" y="1074" width="440.4" height="307" rx="40"/></clipPath>
  <pattern id="mesh3" patternUnits="userSpaceOnUse" width="4.2" height="4.2" patternTransform="rotate(-8)">
    <rect width="4.2" height="4.2" fill="#c8aa7e"/>
    <rect x="1.6" y="1.6" width="1.3" height="1.1" fill="#7a6040" opacity="0.7"/>
  </pattern>
  <linearGradient id="fold3" x1="0" x2="1" y1="0" y2="0">
    <stop offset="0" stop-color="#6a6a6a"/>
    <stop offset="0.15" stop-color="#5e5e5e"/>
    <stop offset="0.6" stop-color="#585858"/>
    <stop offset="1" stop-color="#444"/>
  </linearGradient>
  <linearGradient id="band3" x1="0" x2="1" y1="0" y2="0">
    <stop offset="0" stop-color="#8e8e8e"/>
    <stop offset="0.5" stop-color="#a2a2a2"/>
    <stop offset="1" stop-color="#949494"/>
  </linearGradient>
  <filter id="blur3" x="-50%" y="-50%" width="200%" height="200%"><feGaussianBlur stdDeviation="5"/></filter>
</defs>
<g clip-path="url(#ph3)">
  <rect x="1020" y="1074" width="442" height="310" fill="#5e5e5e"/>
  <!-- left fur stripes -->
  <g filter="url(#blur3)">
    <rect x="1010" y="1070" width="200" height="60" fill="#707070"/>
    <rect x="1010" y="1130" width="110" height="32" fill="#4e4e4e"/>
    <rect x="1010" y="1162" width="110" height="53" fill="#767676"/>
    <rect x="1010" y="1215" width="110" height="24" fill="#4e4e4e"/>
    <rect x="1010" y="1239" width="110" height="71" fill="#727272"/>
    <rect x="1010" y="1310" width="110" height="29" fill="#4c4c4c"/>
    <rect x="1010" y="1339" width="110" height="50" fill="#6c6c6c"/>
  </g>
  <!-- right fur -->
  <path d="M1180,1070 L1470,1070 L1470,1390 L1346,1390 L1322,1321 L1288,1260 L1254,1200 L1217,1143 L1190,1106 Z" fill="#858585"/>
  <g fill="none" stroke-linecap="round" filter="url(#blur3)">
    <path d="M1285,1070 C1320,1120 1360,1170 1400,1240 C1430,1290 1450,1330 1470,1370" stroke="#5e5e5e" stroke-width="34" opacity="0.75"/>
    <path d="M1420,1070 C1440,1100 1455,1120 1470,1140" stroke="#505050" stroke-width="50" opacity="0.8"/>
    <path d="M1240,1080 C1270,1130 1300,1180 1330,1240" stroke="#a0a0a0" stroke-width="30" opacity="0.6"/>
    <path d="M1350,1190 C1380,1250 1410,1310 1430,1390" stroke="#9a9a9a" stroke-width="30" opacity="0.5"/>
    <path d="M1290,1290 C1310,1330 1330,1360 1345,1390" stroke="#6a6a6a" stroke-width="20" opacity="0.5"/>
  </g>
  <!-- left piece of fold -->
  <path d="M1117,1138 C1118,1128 1124,1120 1135,1118 L1176,1120 L1173,1176 L1166,1384 L1105,1384 C1110,1300 1114,1200 1117,1138 Z" fill="url(#fold3)"/>
  <path d="M1119,1136 C1116,1200 1112,1300 1108,1384" fill="none" stroke="#858585" stroke-width="5" opacity="0.7" filter="url(#blur3)"/>
  <!-- tan backing -->
  <!-- light band -->
  <path d="M1130,1120 C1150,1110 1172,1105 1190,1105 L1217,1143 L1254,1200 L1288,1260 L1322,1321 L1347,1384 L1290,1384 L1235,1272 L1196.5,1200 L1177,1173 L1156,1143 Z" fill="url(#band3)"/>
  <!-- seam -->
  <path d="M1190,1105 L1217,1143 L1254,1200 L1288,1260 L1322,1321 L1348,1384" fill="none" stroke="#4a4a4a" stroke-width="6" stroke-linejoin="round"/>
  <rect x="1020" y="1074" width="442" height="310" filter="url(#furNoise2)" style="mix-blend-mode:overlay" opacity="0.25"/>
  <path d="M1173,1172 L1196.5,1200 L1235,1272 L1290,1384 L1166,1384 Z" fill="url(#mesh3)"/>
  <path d="M1173,1172 L1196.5,1200 L1235,1272 L1290,1384" fill="none" stroke="#6a6a6a" stroke-width="2" opacity="0.6"/>
</g>
<text transform="translate(1075.95,1430.10) scale(0.3208,0.4186)" font-size="100" font-weight="bold" fill="#fff" stroke="#fff" stroke-width="4.87" stroke-linejoin="round">E</text>
<text transform="translate(1099.37,1430.10) scale(0.3788,0.4186)" font-size="100" font-weight="bold" fill="#fff" stroke="#fff" stroke-width="4.51" stroke-linejoin="round">X</text>
<text transform="translate(1126.91,1430.10) scale(0.3886,0.4186)" font-size="100" font-weight="bold" fill="#fff" stroke="#fff" stroke-width="4.46" stroke-linejoin="round">Q</text>
<text transform="translate(1159.88,1430.10) scale(0.3693,0.4186)" font-size="100" font-weight="bold" fill="#fff" stroke="#fff" stroke-width="4.57" stroke-linejoin="round">U</text>
<text transform="translate(1188.11,1430.10) scale(0.4165,0.4186)" font-size="100" font-weight="bold" fill="#fff" stroke="#fff" stroke-width="4.31" stroke-linejoin="round">I</text>
<text transform="translate(1201.83,1430.10) scale(0.3705,0.4186)" font-size="100" font-weight="bold" fill="#fff" stroke="#fff" stroke-width="4.56" stroke-linejoin="round">S</text>
<text transform="translate(1229.42,1430.10) scale(0.3402,0.4186)" font-size="100" font-weight="bold" fill="#fff" stroke="#fff" stroke-width="4.74" stroke-linejoin="round">I</text>
<text transform="translate(1241.28,1430.10) scale(0.3770,0.4186)" font-size="100" font-weight="bold" fill="#fff" stroke="#fff" stroke-width="4.52" stroke-linejoin="round">T</text>
<text transform="translate(1267.08,1430.10) scale(0.3315,0.4186)" font-size="100" font-weight="bold" fill="#fff" stroke="#fff" stroke-width="4.80" stroke-linejoin="round">E</text>
<text transform="translate(1300.68,1430.10) scale(0.3315,0.4186)" font-size="100" font-weight="bold" fill="#fff" stroke="#fff" stroke-width="4.80" stroke-linejoin="round">E</text>
<text transform="translate(1325.55,1430.10) scale(0.3816,0.4186)" font-size="100" font-weight="bold" fill="#fff" stroke="#fff" stroke-width="4.50" stroke-linejoin="round">D</text>
<text transform="translate(1355.44,1430.10) scale(0.3557,0.4186)" font-size="100" font-weight="bold" fill="#fff" stroke="#fff" stroke-width="4.65" stroke-linejoin="round">G</text>
<text transform="translate(1384.15,1430.10) scale(0.3208,0.4186)" font-size="100" font-weight="bold" fill="#fff" stroke="#fff" stroke-width="4.87" stroke-linejoin="round">E</text>

</svg>
</body></html>
